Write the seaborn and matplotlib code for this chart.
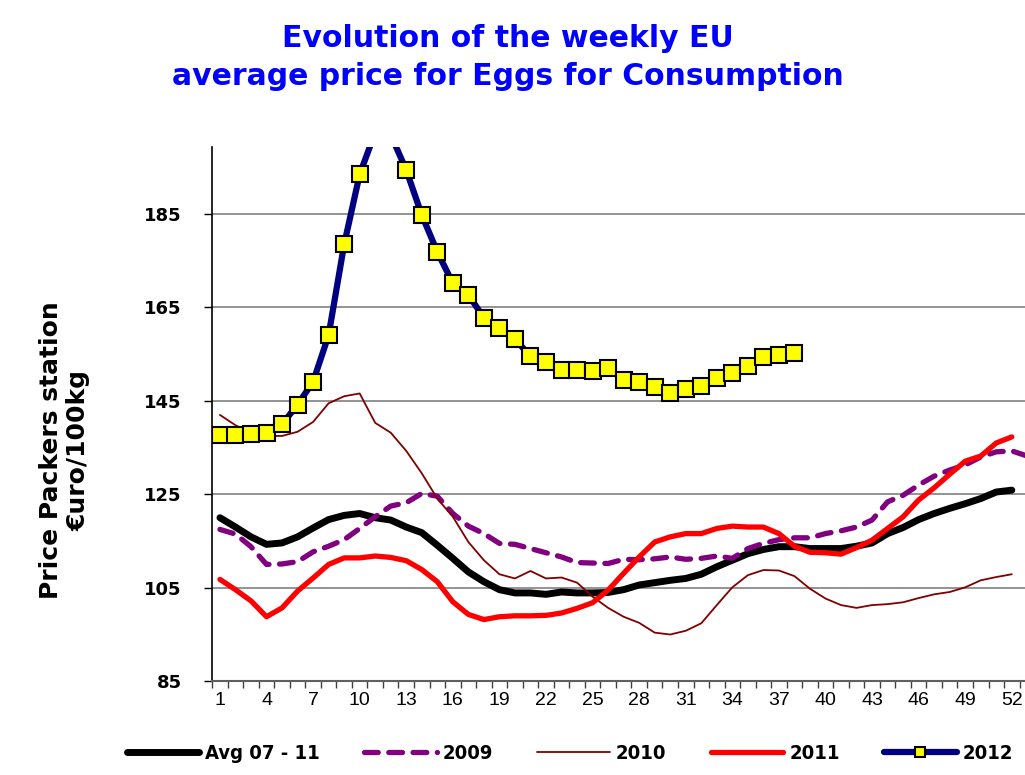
import numpy as np
import pandas as pd
import matplotlib
matplotlib.use('Agg')
import matplotlib.pyplot as plt
from matplotlib import font_manager
import seaborn as sns

# Weekly EU average price for eggs (euro/100kg)
avg_07_11 = [120.0, 118.0, 115.9, 114.3, 114.6, 115.9, 117.8, 119.6, 120.5, 120.9,
             120.0, 119.5, 118.0, 116.8, 114.1, 111.3, 108.4, 106.3, 104.6, 103.9,
             103.9, 103.6, 104.1, 103.9, 103.9, 104.0, 104.6, 105.6, 106.1, 106.6,
             107.0, 107.9, 109.5, 110.9, 112.3, 113.2, 113.8, 113.8, 113.4, 113.4,
             113.4, 113.9, 114.6, 116.6, 117.9, 119.6, 120.9, 122.0, 123.0, 124.1,
             125.5, 125.9]
y2009 = [117.5, 116.5, 113.8, 110.0, 110.1, 110.6, 112.7, 113.9, 115.3, 117.7,
         120.2, 122.5, 123.2, 125.2, 124.6, 120.9, 118.2, 116.6, 114.5, 114.3,
         113.4, 112.5, 111.6, 110.4, 110.3, 110.2, 111.1, 111.0, 111.2, 111.6,
         111.1, 111.3, 111.8, 111.3, 113.4, 114.5, 115.3, 115.7, 115.7, 116.6,
         117.2, 118.0, 119.5, 123.4, 124.8, 127.0, 128.9, 130.2, 131.3, 133.0,
         134.1, 134.3, 133.2]
y2010 = [142.0, 139.8, 138.2, 137.5, 137.5, 138.4, 140.5, 144.5, 146.0, 146.6,
         140.3, 138.2, 134.3, 129.5, 124.1, 120.2, 114.8, 110.9, 107.9, 107.0,
         108.6, 107.0, 107.2, 106.1, 103.1, 100.7, 98.8, 97.5, 95.4, 95.0,
         95.8, 97.4, 101.3, 105.1, 107.7, 108.8, 108.7, 107.5, 104.8, 102.7,
         101.3, 100.7, 101.3, 101.5, 101.9, 102.8, 103.6, 104.1, 105.1, 106.6,
         107.3, 107.9]
y2011 = [106.8, 104.6, 102.2, 98.8, 100.7, 104.3, 107.1, 110.0, 111.4, 111.4,
         111.8, 111.5, 110.8, 108.9, 106.3, 102.0, 99.3, 98.2, 98.8, 99.0,
         99.0, 99.1, 99.6, 100.6, 101.8, 104.5, 108.1, 111.6, 114.8, 115.9,
         116.6, 116.6, 117.7, 118.2, 118.0, 118.0, 116.6, 113.9, 112.6, 112.5,
         112.2, 113.6, 115.2, 117.7, 120.2, 123.8, 126.4, 129.3, 132.1, 133.2,
         136.0, 137.3]
y2012 = [137.7, 137.7, 138.0, 138.2, 140.0, 144.2, 149.1, 159.1, 178.5, 193.5,
         202.5, 202.0, 194.4, 184.8, 176.9, 170.2, 167.7, 162.8, 160.7, 158.2,
         154.6, 153.4, 151.6, 151.7, 151.4, 152.0, 149.5, 149.1, 147.9, 146.6,
         147.5, 148.2, 150.0, 150.9, 152.5, 154.4, 154.8, 155.3]

y_ticks = [85, 105, 125, 145, 165, 185]
x_labels = list(range(1, 53, 3))

sns.set_style('white')
names = {f.name for f in font_manager.fontManager.ttflist}
narrow = 'Liberation Sans Narrow' if 'Liberation Sans Narrow' in names else 'Liberation Sans'
plt.rcParams['font.family'] = ['DejaVu Sans']
plt.rcParams['text.color'] = 'black'
plt.rcParams['axes.labelcolor'] = 'black'
plt.rcParams['xtick.color'] = 'black'
plt.rcParams['ytick.color'] = 'black'

fig = plt.figure(figsize=(10.25, 7.75), dpi=100)
ax = fig.add_axes([0.207, 0.121, 0.793, 0.689])

sns.lineplot(x=np.arange(1, len(avg_07_11) + 1), y=avg_07_11, ax=ax, color='black',
             lw=5.0, label='Avg 07 - 11', solid_capstyle='round')
sns.lineplot(x=np.arange(1, len(y2009) + 1), y=y2009, ax=ax, color='#800080',
             lw=3.8, dashes=(2.6, 2.0), dash_capstyle='round', label='2009')
sns.lineplot(x=np.arange(1, len(y2010) + 1), y=y2010, ax=ax, color='#800000',
             lw=1.3, label='2010')
sns.lineplot(x=np.arange(1, len(y2011) + 1), y=y2011, ax=ax, color='#FF0000',
             lw=3.8, label='2011', solid_capstyle='round')
sns.lineplot(x=np.arange(1, len(y2012) + 1), y=y2012, ax=ax, color='#000080',
             lw=4.5, marker='s', markersize=12, markerfacecolor='#FFFF00',
             markeredgecolor='black', markeredgewidth=1.5, label='2012')

ax.set_xlim(0.5, 52.85)
ax.set_ylim(85, 199.3)
ax.set_yticks(y_ticks)
ax.set_yticklabels([str(v) for v in y_ticks], fontsize=13, fontweight='bold')
ax.set_xticks(x_labels)
ax.set_xticklabels([str(v) for v in x_labels], fontsize=14, family=narrow)
ax.set_xticks(np.arange(0.5, 53.5, 1), minor=True)
ax.tick_params(axis='x', which='major', length=0, pad=8)
ax.tick_params(axis='x', which='minor', length=5, width=1, color='#404040', bottom=True)
ax.tick_params(axis='y', which='major', length=6, width=1, color='black', left=True, pad=16)

ax.grid(axis='y', color='#808080', lw=1.2)
ax.grid(axis='x', visible=False)
for s in ['top', 'right']:
    ax.spines[s].set_visible(False)
ax.spines['left'].set_color('black')
ax.spines['left'].set_linewidth(1.2)
ax.spines['bottom'].set_color('#606060')
ax.spines['bottom'].set_linewidth(1.5)

ax.set_ylabel('Price Packers station\n€uro/100kg', fontsize=18, fontweight='bold',
              linespacing=1.15)
ax.yaxis.set_label_coords(-0.15, 0.433)

fig.text(0.495, 0.926, 'Evolution of the weekly EU\naverage price for Eggs for Consumption',
         ha='center', va='center', fontsize=21.5, fontweight='bold', color='#0000FF',
         linespacing=1.42)

handles, labels = ax.get_legend_handles_labels()
ax.legend_.remove()
fig.legend(handles, labels, loc='center', bbox_to_anchor=(0.556, 0.028), ncol=5,
           frameon=False, handlelength=3.6, columnspacing=2.2, handletextpad=0.3,
           prop={'weight': 'bold', 'size': 14.5, 'stretch': 'condensed'}, markerscale=0.6)

plt.savefig('out.png', dpi=100)
